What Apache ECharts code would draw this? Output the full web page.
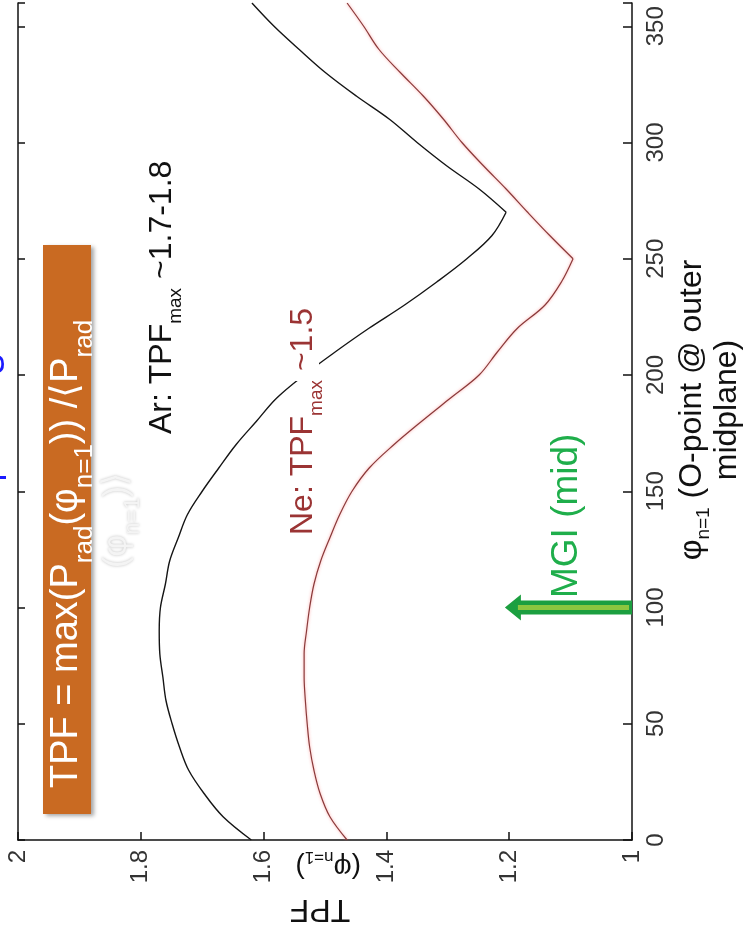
<!DOCTYPE html>
<html>
<head>
<meta charset="utf-8">
<script src="https://cdn.jsdelivr.net/npm/echarts@6/dist/echarts.min.js"></script>
<style>html,body{margin:0;padding:0;background:#fff}#c{width:749px;height:938px}</style>
</head>
<body>
<div id="c"></div>
<script>
// φ_{n=1} (deg)
const phi = [0,10,20,30,40,50,60,70,80,90,100,110,120,130,140,150,160,170,180,190,200,210,220,230,240,250,260,270,280,290,300,310,320,330,340,350,360];
// Ar TPF
const arTPF = [1.620,1.666,1.697,1.722,1.737,1.749,1.759,1.764,1.769,1.770,1.768,1.760,1.753,1.739,1.724,1.700,1.673,1.645,1.612,1.579,1.534,1.483,1.429,1.371,1.318,1.269,1.228,1.205,1.249,1.302,1.350,1.395,1.449,1.499,1.542,1.583,1.619];
// Ne TPF
const neTPF = [1.464,1.492,1.508,1.518,1.525,1.529,1.532,1.534,1.534,1.530,1.525,1.518,1.507,1.492,1.476,1.456,1.428,1.388,1.343,1.296,1.249,1.219,1.187,1.142,1.115,1.096,1.134,1.170,1.205,1.242,1.277,1.307,1.340,1.377,1.412,1.437,1.464];
// MGI arrow: [TPF start, φ, TPF tip]
const mgiArrow = [[1.0, 100, 1.207]];
const tpfTicks = [1, 1.2, 1.4, 1.6, 1.8, 2];
const phiTicks = [0, 50, 100, 150, 200, 250, 300, 350];

const FONT = '"Liberation Sans", Arial, Helvetica, sans-serif';
const mctx = document.createElement('canvas').getContext('2d');
function tw(t, s) { mctx.font = s + 'px ' + FONT; return mctx.measureText(t).width; }
function totalW(parts) { return parts.reduce((a, p) => a + tw(p.t, p.s), 0); }

// builds a rotated multi-size label; (x,y) = start of reading line (middle)
function label(parts, x, y, rotation, color, bg) {
  let cx = 0;
  const children = parts.map(p => {
    const el = {
      type: 'text', x: cx, y: p.dy || 0, z: 100,
      style: {
        text: p.t, fontSize: p.s, fontFamily: FONT, fill: p.c || color,
        align: 'left', verticalAlign: 'middle',
        backgroundColor: bg || null, padding: bg ? [0, 1, 0, 1] : 0,
        textShadowColor: p.sh || null, textShadowBlur: p.sh ? 3 : 0
      }
    };
    cx += tw(p.t, p.s);
    return el;
  });
  return { type: 'group', x: x, y: y, rotation: rotation, z: 100, children: children };
}

const R90 = Math.PI / 2;
const graphics = [];

// orange formula box
graphics.push({
  type: 'rect', z: 90, shape: { x: 43, y: 245, width: 48, height: 569 },
  style: { fill: '#c96a22', shadowColor: 'rgba(0,0,0,0.35)', shadowBlur: 4, shadowOffsetX: 3, shadowOffsetY: 2 }
});
graphics.push(label([
  { t: 'TPF = max(P', s: 38 }, { t: 'rad', s: 26, dy: 18 }, { t: '(φ', s: 38 },
  { t: 'n=1', s: 26, dy: 18 }, { t: ')) /⟨P', s: 38 }, { t: 'rad', s: 26, dy: 18 }
], 67, 788, R90, '#ffffff'));
graphics.push(label([
  { t: '(φ', s: 34, sh: 'rgba(0,0,0,0.25)' }, { t: 'n=1', s: 22, dy: 16, sh: 'rgba(0,0,0,0.25)' }, { t: ')⟩', s: 34, sh: 'rgba(0,0,0,0.25)' }
], 117, 568, R90, '#f4f4f4'));

// Ar / Ne annotations
graphics.push(label([
  { t: 'Ar: TPF', s: 32 }, { t: 'max', s: 19, dy: 14 }, { t: ' ~1.7-1.8', s: 32 }
], 162, 434, R90, '#111111'));
graphics.push(label([
  { t: 'Ne: TPF', s: 32 }, { t: 'max', s: 19, dy: 14 }, { t: ' ~1.5', s: 32 }
], 303, 536, R90, '#9b3434', '#ffffff'));

// MGI
graphics.push(label([{ t: 'MGI (mid)', s: 37 }], 567, 598, R90, '#1fae4b'));

// φ axis title (two centered lines)
const t1 = [{ t: 'φ', s: 32 }, { t: 'n=1', s: 19, dy: 12 }, { t: ' (O-point @ outer', s: 32 }];
const t2 = [{ t: 'midplane)', s: 32 }];
graphics.push(label(t1, 692, 410 + totalW(t1) / 2, R90, '#111111'));
graphics.push(label(t2, 727, 410 + totalW(t2) / 2, R90, '#111111'));

// TPF axis title (upside down)
const tb = [{ t: 'TPF', s: 32 }];
graphics.push(label(tb, 320 + totalW(tb) / 2, 909, Math.PI, '#111111'));
graphics.push(label([{ t: '(φ', s: 28 }, { t: 'n=1', s: 17, dy: 10 }, { t: ')', s: 28 }], 361, 867, Math.PI, '#111111'));

// blue clipped fragments at left edge
graphics.push(label([{ t: 's', s: 40 }], -7, 374, R90, '#1a1aff'));
graphics.push({ type: 'rect', z: 100, shape: { x: 0, y: 476, width: 6, height: 3 }, style: { fill: '#1a1aff' } });

// split each curve at its minimum so the V stays sharp while the arcs stay smooth
function branches(vals) {
  let k = 0;
  vals.forEach((v, i) => { if (v < vals[k]) k = i; });
  const pts = phi.map((p, i) => [vals[i], p]);
  return [pts.slice(0, k + 1), pts.slice(k)];
}
const arB = branches(arTPF), neB = branches(neTPF);
const arStyle = { color: '#151515', width: 1.4 };
const neStyle = { color: '#8a3a3a', width: 1.2, shadowColor: 'rgba(255,110,110,0.7)', shadowBlur: 3 };
function lineSeries(name, data, style) {
  return { name: name, type: 'line', xAxisIndex: 0, yAxisIndex: 0, showSymbol: false, symbol: 'none',
    smooth: 0.35, data: data, lineStyle: style, z: 3 };
}

const axisLineStyle = { color: '#111', width: 1.5 };
const chart = echarts.init(document.getElementById('c'), null, { renderer: 'canvas' });
chart.setOption({
  animation: false,
  backgroundColor: '#ffffff',
  grid: { left: 18, right: 117, top: -4, bottom: 98, containLabel: false },
  xAxis: {
    type: 'value', min: 1, max: 2, interval: 0.2, inverse: true, position: 'bottom',
    axisLine: { show: true, onZero: false, lineStyle: axisLineStyle },
    axisTick: { show: true, inside: true, length: 8, lineStyle: axisLineStyle },
    axisLabel: {
      rotate: 90, margin: 10, fontSize: 24, color: '#333', fontFamily: FONT,
      formatter: v => { const m = tpfTicks.find(t => Math.abs(t - v) < 1e-6); return m === undefined ? '' : String(m); }
    },
    splitLine: { show: false }
  },
  yAxis: [{
    type: 'value', min: 0, max: 360, interval: 50, position: 'right',
    axisLine: { show: true, onZero: false, lineStyle: axisLineStyle },
    axisTick: { show: true, inside: true, length: 9, lineStyle: axisLineStyle },
    axisLabel: {
      rotate: 90, margin: 12, fontSize: 24, color: '#333', fontFamily: FONT,
      formatter: v => phiTicks.indexOf(v) >= 0 ? String(v) : ''
    },
    splitLine: { show: false }
  }, {
    type: 'value', min: 0, max: 360, interval: 50, position: 'left',
    axisLine: { show: true, onZero: false, lineStyle: axisLineStyle },
    axisTick: { show: true, inside: true, length: 7, lineStyle: axisLineStyle },
    axisLabel: { show: false },
    splitLine: { show: false }
  }],
  series: [
    lineSeries('Ar', arB[0], arStyle), lineSeries('Ar', arB[1], arStyle),
    lineSeries('Ne', neB[0], neStyle), lineSeries('Ne', neB[1], neStyle),
    {
      name: 'MGI', type: 'custom', xAxisIndex: 0, yAxisIndex: 0, z: 5,
      data: mgiArrow,
      encode: { x: [0, 2], y: 1 },
      renderItem: (params, api) => {
        const s = api.coord([api.value(0), api.value(1)]);
        const t = api.coord([api.value(2), api.value(1)]);
        const y = s[1], x0 = s[0], x1 = t[0];
        const half = 7, headLen = 16, headHalf = 13;
        return {
          type: 'group', children: [
            { type: 'polygon', shape: { points: [[x1, y], [x1 + headLen, y - headHalf], [x1 + headLen, y - half], [x0, y - half], [x0, y + half], [x1 + headLen, y + half], [x1 + headLen, y + headHalf]] }, style: { fill: '#1c9f40' } },
            { type: 'rect', shape: { x: x1 + headLen - 3, y: y - 2.5, width: x0 - (x1 + headLen - 3) - 3, height: 5 }, style: { fill: '#8cc63f' } }
          ]
        };
      }
    }
  ],
  graphic: { elements: graphics }
});
</script>
</body>
</html>
